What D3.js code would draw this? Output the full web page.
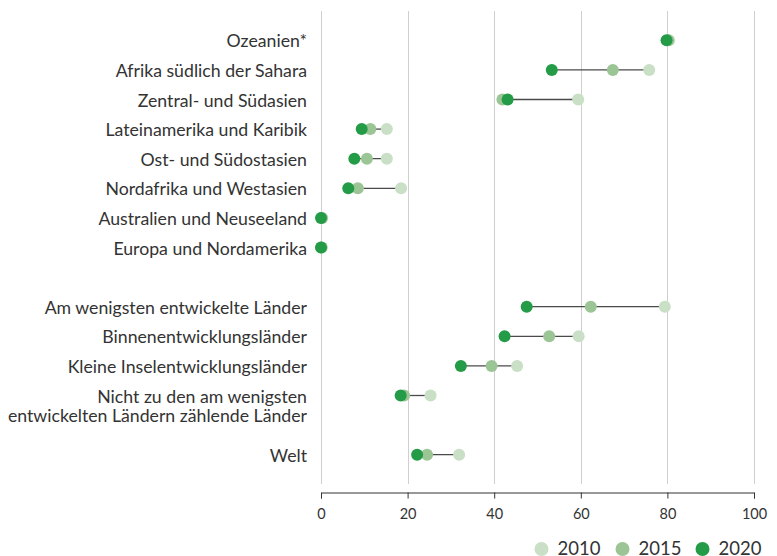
<!DOCTYPE html>
<html lang="de">
<head>
<meta charset="utf-8">
<title>Dumbbell 2010-2020</title>
<style>
body { margin: 0; background: #fff; }
text { font-family: Lato, "Open Sans", sans-serif; fill: #333; }
.grid line { stroke: #cfcfcf; stroke-width: 1; }
.axis path, .axis line { stroke: #333; }
.axis text { font-size: 14.5px; fill: #333; font-family: Lato, sans-serif; }
.label { font-size: 17.7px; }
.legend text { font-size: 18.5px; }
</style>
</head>
<body>
<svg width="777" height="556"></svg>
<script src="https://d3js.org/d3.v7.min.js"></script>
<script>
// Regionen / Gruppen (leere Einträge = Abstand)
var categories = [
  "Ozeanien*",
  "Afrika südlich der Sahara",
  "Zentral- und Südasien",
  "Lateinamerika und Karibik",
  "Ost- und Südostasien",
  "Nordafrika und Westasien",
  "Australien und Neuseeland",
  "Europa und Nordamerika",
  "",
  "Am wenigsten entwickelte Länder",
  "Binnenentwicklungsländer",
  "Kleine Inselentwicklungsländer",
  "Nicht zu den am wenigsten\nentwickelten Ländern zählende Länder",
  " ",
  "Welt"
];
var v2010 = [80.4, 75.8, 59.4, 15.2, 15.2, 18.5, 0.3, 0.2, null, 79.4, 59.5, 45.3, 25.3, null, 31.9];
var v2015 = [80.2, 67.4, 41.9, 11.4, 10.6, 8.5, 0.2, 0.1, null, 62.3, 52.7, 39.4, 19.2, null, 24.5];
var v2020 = [79.8, 53.3, 43.1, 9.4, 7.7, 6.3, 0.0, 0.0, null, 47.5, 42.4, 32.3, 18.4, null, 22.2];
var years = ["2010", "2015", "2020"];
var xTicks = [0, 20, 40, 60, 80, 100];

var colors = { "2010": "#c9dfc6", "2015": "#9bc595", "2020": "#239b47" };

var svg = d3.select("svg");

var x = d3.scaleLinear().domain([0, 100]).range([321, 754]);
var y = d3.scalePoint().domain(categories).range([40.3, 454.7]);

// Gitterlinien
svg.append("g").attr("class", "grid")
  .selectAll("line").data(xTicks).enter().append("line")
    .attr("x1", function(d) { return Math.round(x(d)) + 0.5; })
    .attr("x2", function(d) { return Math.round(x(d)) + 0.5; })
    .attr("y1", 11).attr("y2", 484);

// x-Achse
var axis = svg.append("g").attr("class", "axis")
  .attr("transform", "translate(0,492.5)")
  .call(d3.axisBottom(x).tickValues(xTicks).tickSize(6).tickSizeOuter(6).tickPadding(8));
axis.selectAll("text").attr("dy", "0.85em");

var rows = categories.map(function(c, i) {
  return { name: c, a: v2010[i], b: v2015[i], c: v2020[i] };
}).filter(function(d) { return d.a != null; });

// Verbindungslinien
svg.append("g").selectAll("line").data(rows).enter().append("line")
  .attr("x1", function(d) { return x(Math.min(d.a, d.b, d.c)); })
  .attr("x2", function(d) { return x(Math.max(d.a, d.b, d.c)); })
  .attr("y1", function(d) { return y(d.name); })
  .attr("y2", function(d) { return y(d.name); })
  .attr("stroke", "#4a4a4a").attr("stroke-width", 1.3);

// Punkte
var series = [["2010", "a"], ["2015", "b"], ["2020", "c"]];
series.forEach(function(s) {
  svg.append("g").selectAll("circle").data(rows).enter().append("circle")
    .attr("cx", function(d) { return x(d[s[1]]); })
    .attr("cy", function(d) { return y(d.name); })
    .attr("r", 6)
    .attr("fill", colors[s[0]]);
});

// Beschriftungen
var labels = svg.append("g").selectAll("text").data(rows).enter().append("text")
  .attr("class", "label")
  .attr("text-anchor", "end")
  .attr("x", 307)
  .attr("y", function(d) { return y(d.name) + 1; });
labels.each(function(d) {
  var parts = d.name.split("\n");
  var t = d3.select(this);
  parts.forEach(function(p, i) {
    t.append("tspan").attr("x", 307).attr("dy", i == 0 ? "0.35em" : "19.5").text(p);
  });
});

// Legende
var lx = [541.5, 622.5, 702.5];
var legend = svg.append("g").attr("class", "legend")
  .selectAll("g").data(years).enter().append("g")
  .attr("transform", function(d, i) { return "translate(" + lx[i] + ",549)"; });
legend.append("circle").attr("r", 7).attr("fill", function(d) { return colors[d]; });
legend.append("text").attr("x", 16).attr("dy", "0.35em").text(function(d) { return d; });
</script>
</body>
</html>
